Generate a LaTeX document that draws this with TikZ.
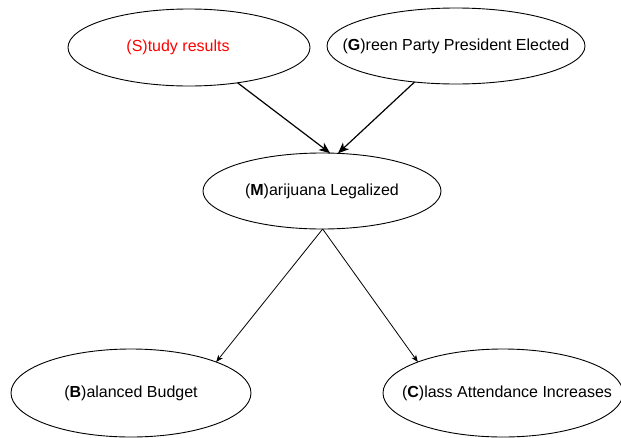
\documentclass[tikz,border=0pt]{standalone}
\usepackage{fontspec}
\setmainfont{Liberation Sans}
\usetikzlibrary{shapes.geometric,arrows.meta}
\definecolor{studyred}{RGB}{255,0,0}
\tikzset{
  ev/.style={draw=black, line width=0.9pt, ellipse, inner sep=0pt, outer sep=0pt,
    font=\fontsize{16}{19}\selectfont},
  bigarrow/.style={draw=black, line width=1.2pt, -{Stealth[length=11pt,width=9pt,inset=3pt]}},
  smallarrow/.style={draw=black, line width=0.8pt, -{Stealth[length=7pt,width=5.5pt,inset=2pt]}}
}
\newcommand{\evtext}[2][0pt]{\makebox[0pt][c]{\hspace*{#1}#2}}
\begin{document}
\begin{tikzpicture}[x=1pt,y=-1pt]
\useasboundingbox (0,0) rectangle (621,437);
\node[ev, minimum width=242pt, minimum height=77pt, text=studyred] (S) at (189,47.5) {\makebox[0pt][c]{(S)tudy results\hspace*{22pt}}};
\node[ev, minimum width=258pt, minimum height=76pt] (G) at (456,46) {\evtext{(\textbf{G})reen Party President Elected}};
\node[ev, minimum width=238pt, minimum height=76pt] (M) at (322,191) {\evtext{(\textbf{M})arijuana Legalized}};
\node[ev, minimum width=240pt, minimum height=88pt] (B) at (131,393) {\evtext{(\textbf{B})alanced Budget}};
\node[ev, minimum width=240pt, minimum height=88pt] (C) at (503,393) {\evtext[8pt]{(\textbf{C})lass Attendance Increases}};
\draw[bigarrow] (S.-36.5) -- (M.78.4);
\draw[bigarrow] (G.-139.3) -- (M.67.7);
\draw[smallarrow] (M.-89) -- (B.20.5);
\draw[smallarrow] (M.-89) -- (C.160.4);
\end{tikzpicture}
\end{document}
